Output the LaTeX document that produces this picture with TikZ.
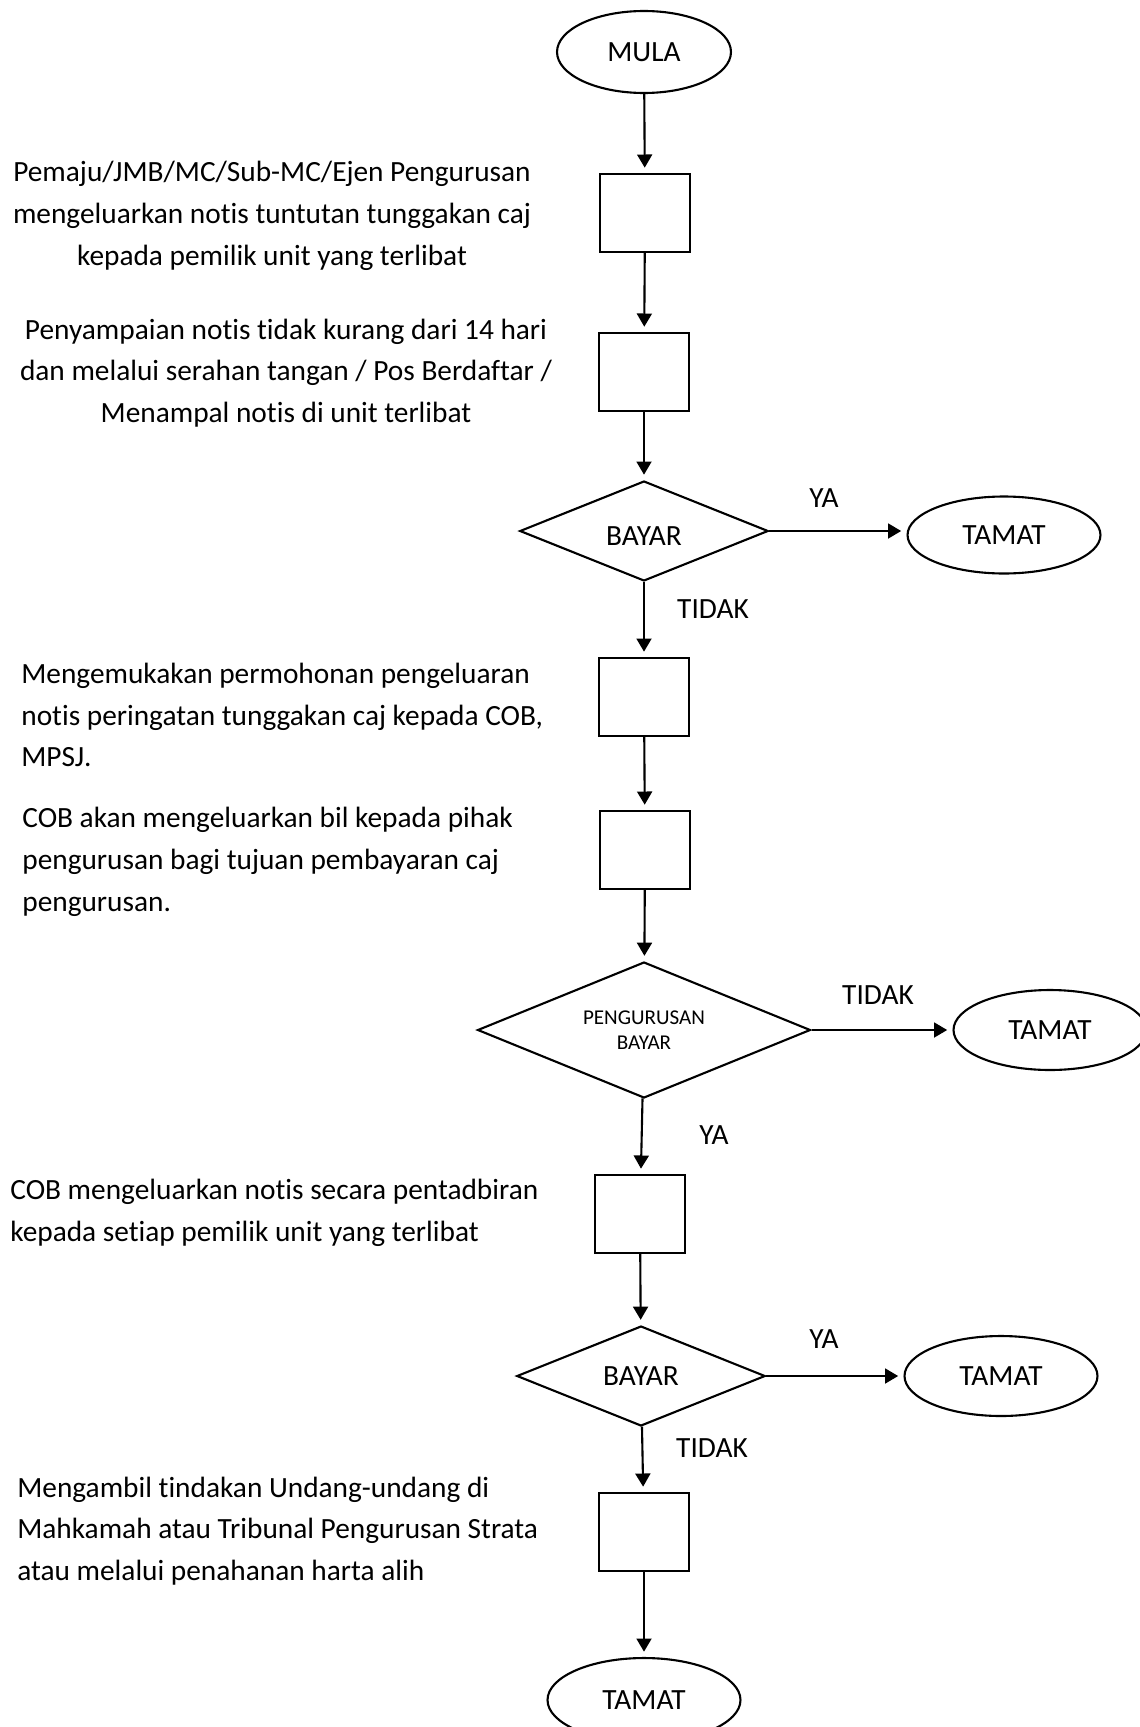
\documentclass[tikz,border=0pt]{standalone}
\usepackage{fontspec}
\setmainfont{Carlito}[Ligatures=NoCommon]
\usetikzlibrary{shapes,arrows,arrows.meta}
\tikzstyle{block} = [rectangle, draw, line width=1.2pt,
    minimum width=1.8cm, minimum height=1.56cm]
\tikzstyle{term} = [ellipse, draw, line width=1.2pt,
    minimum width=3.86cm, minimum height=1.6cm]
\tikzstyle{decision} = [diamond, draw, line width=1.2pt, inner sep=0pt,
    aspect=2.5, minimum width=4.97cm, minimum height=2cm]
\tikzstyle{note} = [inner sep=0pt]
\tikzstyle{line} = [draw, line width=1.2pt, -{Triangle[length=7.5pt,width=8.5pt]}, shorten >=3pt]

\begin{document}
\begin{tikzpicture}[x=0.02cm, y=-0.02cm, font=\fontsize{16.7}{23.8}\selectfont]
  \useasboundingbox (0,0) rectangle (1139,1727);
  % main column
  \node [term, minimum width=3.48cm, minimum height=1.64cm] (mula) at (644,52) {MULA};
  \node [block] (b1) at (645,213) {};
  \node [block] (b2) at (644,372) {};
  \node [decision] (d1) at (644,531) {\raisebox{-3pt}[\height][0pt]{BAYAR}};
  \node [term, minimum height=1.54cm] (t1) at (1004,535) {TAMAT};
  \node [block] (b3) at (644,697) {};
  \node [block] (b4) at (645,850) {};
  \node [decision, minimum width=6.66cm, minimum height=2.72cm, aspect=2.45,
    align=center, font=\fontsize{12}{14.2}\selectfont] (d2) at (644,1030) {PENGURUSAN\\BAYAR};
  \node [term] (t2) at (1050,1030) {TAMAT};
  \node [block] (b5) at (640,1214) {};
  \node [decision] (d3) at (641,1376) {BAYAR};
  \node [term] (t3) at (1001,1376) {TAMAT};
  \node [block] (b6) at (644,1532) {};
  \node [term, minimum height=1.68cm] (t4) at (644,1700) {TAMAT};
  % keterangan
  \node [note, align=center] (n1) at (272,216) {Pemaju/JMB/MC/Sub-MC/Ejen Pengurusan\\mengeluarkan notis tuntutan tunggakan caj\\kepada pemilik unit yang terlibat};
  \node [note, align=center] (n2) at (286,373) {Penyampaian notis tidak kurang dari 14 hari\\dan melalui serahan tangan / Pos Berdaftar /\\Menampal notis di unit terlibat};
  \node [note, align=left, anchor=west] (n3) at (21,715) {Mengemukakan permohonan pengeluaran\\notis peringatan tunggakan caj kepada COB,\\MPSJ.};
  \node [note, align=left, anchor=west] (n4) at (22,862) {COB akan mengeluarkan bil kepada pihak\\pengurusan bagi tujuan pembayaran caj\\pengurusan.};
  \node [note, align=left, anchor=west] (n5) at (10,1213) {COB mengeluarkan notis secara pentadbiran\\kepada setiap pemilik unit yang terlibat};
  \node [note, align=left, anchor=west] (n6) at (17,1531) {Mengambil tindakan Undang-undang di\\Mahkamah atau Tribunal Pengurusan Strata\\atau melalui penahanan harta alih};
  % jawapan
  \node (ya1) at (824,498) {YA};
  \node (tidak1) at (713,609) {TIDAK};
  \node (tidak2) at (878,995) {TIDAK};
  \node (ya2) at (714,1135) {YA};
  \node (ya3) at (824,1339) {YA};
  \node (tidak3) at (712,1448) {TIDAK};
  % anak panah
  \path [line] (mula) -- (b1);
  \path [line] (b1) -- (b2);
  \path [line] (b2) -- (d1);
  \path [line] (d1.east) -- (d1.east -| t1.west);
  \path [line] (d1) -- (b3);
  \path [line] (b3) -- (b4);
  \path [line] (b4) -- (d2);
  \path [line] (d2) -- (t2);
  \path [line] (d2) -- (b5);
  \path [line] (b5) -- (d3);
  \path [line] (d3) -- (t3);
  \path [line] (d3) -- (b6);
  \path [line] (b6) -- (t4);
\end{tikzpicture}
\end{document}
